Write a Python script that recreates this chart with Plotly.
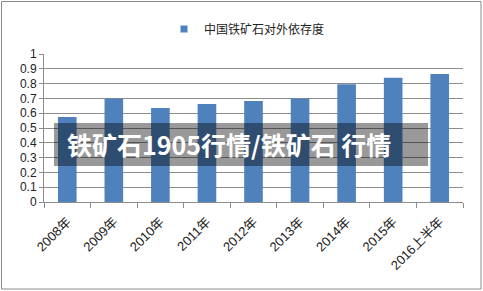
import plotly.graph_objects as go

categories = ["2008年", "2009年", "2010年", "2011年", "2012年", "2013年", "2014年", "2015年", "2016上半年"]
values = [0.575, 0.70, 0.635, 0.662, 0.682, 0.70, 0.795, 0.84, 0.865]
series_name = "中国铁矿石对外依存度"
overlay_text = "铁矿石1905行情/铁矿石 行情"

BLUE = "#4f81bd"
GRID = "#8c8c8c"
FONT = "Liberation Sans, Noto Sans CJK SC, sans-serif"

fig = go.Figure()
fig.add_trace(go.Bar(x=categories, y=values, marker=dict(color=BLUE, line=dict(width=0)),
                     showlegend=False, width=0.4))
fig.add_trace(go.Scatter(x=[None], y=[None], mode="markers", name=series_name,
                         marker=dict(symbol="square", size=7, color=BLUE)))

L, R, T, B = 44, 20, 54, 89
W, H = 483, 291
pw, ph = W - L - R, H - T - B

def px(x):
    return (x - L) / pw

def py(y):
    return (H - B - y) / ph

fig.update_layout(
    width=W, height=H,
    margin=dict(l=L, r=R, t=T, b=B),
    paper_bgcolor="white", plot_bgcolor="white",
    font=dict(family=FONT, size=12, color="#222"),
    legend=dict(orientation="h", x=px(164), xanchor="left", y=py(29), yanchor="middle",
                font=dict(size=12, family="Noto Sans CJK SC, sans-serif", color="#222"),
                bgcolor="rgba(0,0,0,0)", itemwidth=30),
    bargap=0.6,
    xaxis=dict(showgrid=False, showline=True, linecolor=GRID, linewidth=1,
               ticks="outside", tickson="boundaries", ticklen=5, tickcolor=GRID,
               tickangle=-45, ticklabelstandoff=6, tickfont=dict(size=13, family=FONT)),
    yaxis=dict(range=[0, 1], dtick=0.1, showgrid=True, gridcolor=GRID, gridwidth=1,
               showline=True, linecolor=GRID, linewidth=1, ticks="outside", ticklen=4,
               tickcolor=GRID, zeroline=False, tickfont=dict(size=12, family=FONT)),
    shapes=[
        dict(type="rect", xref="paper", yref="paper", x0=px(1.5), x1=px(481), y0=py(289), y1=py(1.5),
             line=dict(color="#8a8a8a", width=1), fillcolor="rgba(0,0,0,0)", layer="below"),
        dict(type="rect", xref="paper", yref="paper", x0=px(54), x1=px(428), y0=py(166), y1=py(123),
             line=dict(width=0), fillcolor="rgba(0,0,0,0.4)", layer="above"),
    ],
    annotations=[
        dict(text="<b>" + overlay_text + "</b>", xref="paper", yref="paper", x=px(65), y=py(144),
             xanchor="left", yanchor="middle", showarrow=False,
             font=dict(size=25, color="white", family="Noto Sans CJK SC, sans-serif")),
    ],
)

fig.write_html("out.html")
